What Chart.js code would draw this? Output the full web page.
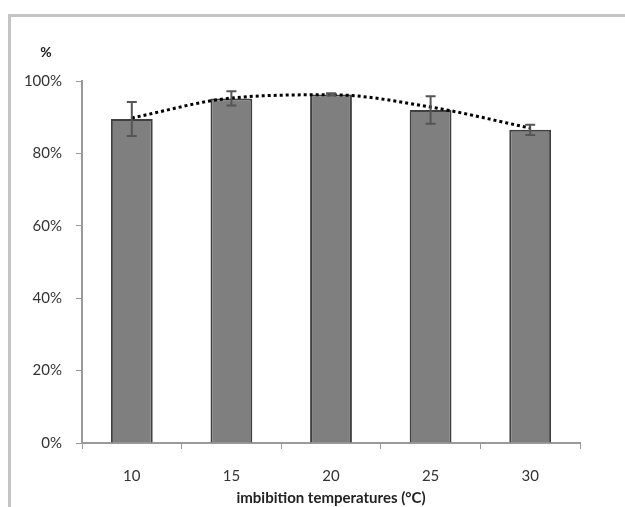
<!DOCTYPE html>
<html>
<head>
<meta charset="utf-8">
<script src="https://cdn.jsdelivr.net/npm/chart.js@4"></script>
<style>
  body { margin: 0; background: #fff; }
  #wrap { position: relative; width: 625px; height: 507px; }
  #frame { position: absolute; left: 8px; top: 14px; right: -5px; bottom: -5px;
           border-left: 3px solid #c4c4c4; border-top: 3px solid #c4c4c4; }
  canvas { position: absolute; left: 0; top: 0; }
</style>
</head>
<body>
<div id="wrap">
  <div id="frame"></div>
  <canvas id="chart" width="625" height="507"></canvas>
</div>
<script>
const temperatures = ['10', '15', '20', '25', '30'];
const germination = [89.5, 95.2, 96.3, 92, 86.5];   // % per temperature
const errors = [4.7, 2, 0.3, 3.8, 1.4];             // +/- error bar
const trend = [89.8, 95.3, 96.2, 92.8, 87];         // polynomial trend line
const yTicks = [0, 20, 40, 60, 80, 100];

const fontFamily = 'Lato, "Open Sans", sans-serif';

// draws the error bars and the "%" label over the y axis
const extras = {
  id: 'extras',
  afterDatasetsDraw(chart) {
    const ctx = chart.ctx;
    const x = chart.scales.x, y = chart.scales.y;
    ctx.save();
    ctx.strokeStyle = '#555';
    ctx.lineWidth = 2;
    germination.forEach((v, i) => {
      const px = x.getPixelForValue(i);
      const top = y.getPixelForValue(v + errors[i]);
      const bot = y.getPixelForValue(v - errors[i]);
      ctx.beginPath();
      ctx.moveTo(px, top); ctx.lineTo(px, bot);
      ctx.moveTo(px - 5, top); ctx.lineTo(px + 5, top);
      ctx.moveTo(px - 5, bot); ctx.lineTo(px + 5, bot);
      ctx.stroke();
    });
    ctx.fillStyle = '#222';
    ctx.font = 'bold 14px ' + fontFamily;
    ctx.textAlign = 'center';
    ctx.textBaseline = 'middle';
    ctx.fillText('%', 46, y.top - 29);
    ctx.restore();
  }
};

new Chart(document.getElementById('chart').getContext('2d'), {
  data: {
    labels: temperatures,
    datasets: [
      {
        type: 'line',
        data: trend,
        borderColor: '#000',
        borderWidth: 3,
        borderDash: [3, 3],
        borderCapStyle: 'butt',
        pointRadius: 0,
        cubicInterpolationMode: 'monotone',
        order: 0
      },
      {
        type: 'bar',
        data: germination,
        backgroundColor: '#7f7f7f',
        borderColor: '#404040',
        borderWidth: 2,
        barPercentage: 0.42,
        categoryPercentage: 1,
        order: 1
      }
    ]
  },
  options: {
    responsive: false,
    animation: false,
    layout: { padding: { top: 81, right: 45, left: 0, bottom: 0 } },
    plugins: { legend: { display: false }, tooltip: { enabled: false } },
    scales: {
      x: {
        grid: { drawOnChartArea: false, tickLength: 6, color: '#9a9a9a', offset: true },
        border: { color: '#9a9a9a', width: 2 },
        ticks: { color: '#333', padding: 18, font: { family: fontFamily, size: 15 } },
        title: {
          display: true,
          text: 'imbibition temperatures (°C)',
          color: '#222',
          padding: { top: -14, bottom: 0 },
          font: { family: fontFamily, size: 15, weight: 'bold' }
        }
      },
      y: {
        min: 0, max: 100,
        afterBuildTicks(scale) { scale.ticks = yTicks.map(v => ({ value: v })); },
        afterFit(scale) { scale.width = 82; },
        grid: { drawOnChartArea: false, tickLength: 6, color: '#9a9a9a' },
        border: { color: '#9a9a9a', width: 2 },
        ticks: {
          color: '#333', padding: 14,
          font: { family: fontFamily, size: 15 },
          callback: v => v + '%'
        }
      }
    }
  },
  plugins: [extras]
});
</script>
</body>
</html>
